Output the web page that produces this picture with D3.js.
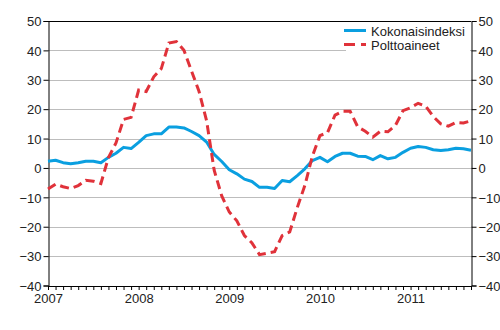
<!DOCTYPE html>
<html>
<head>
<meta charset="utf-8">
<script src="https://cdn.jsdelivr.net/npm/d3@7"></script>
<style>
  body { margin: 0; background: #fff; }
  svg { display: block; }
  text { font-family: Arial, "Liberation Sans", sans-serif; }
</style>
</head>
<body>
<svg id="chart" width="500" height="330"></svg>
<script>
// ---- data ----
const months = [];
for (let yr = 2007; yr <= 2011; yr++) {
  for (let m = 1; m <= 12; m++) {
    if (yr === 2011 && m > 9) break;
    months.push(yr + "-" + String(m).padStart(2, "0"));
  }
}
const yearLabels = ["2007", "2008", "2009", "2010", "2011"];
const yTicks = [-40, -30, -20, -10, 0, 10, 20, 30, 40, 50];
const seriesNames = ["Kokonaisindeksi", "Polttoaineet"];
const kokonaisindeksi = [2.3, 2.6, 1.8, 1.4, 1.8, 2.3, 2.3, 1.8, 3.6, 5.0,
  7.0, 6.6, 8.7, 11.0, 11.6, 11.6, 13.9, 13.9, 13.6, 12.4,
  11.0, 8.8, 4.6, 2.2, -0.6, -2.0, -3.8, -4.6, -6.6, -6.6,
  -7.0, -4.3, -4.7, -2.6, -0.3, 2.5, 3.6, 2.1, 3.9, 5.0,
  5.0, 4.0, 3.9, 2.8, 4.2, 3.1, 3.6, 5.3, 6.7, 7.3,
  7.0, 6.2, 5.9, 6.2, 6.7, 6.5, 6.0];
const polttoaineet = [-7.2, -5.5, -6.4, -7.0, -6.0, -4.2, -4.5, -5.3, 3.5, 8.5,
  16.5, 17.2, 26.5, 26.0, 31.0, 33.8, 42.5, 43.0, 40.0, 33.0,
  26.0, 16.0, -0.8, -9.5, -15.0, -18.0, -23.0, -25.5, -29.5, -29.0,
  -28.5, -23.0, -21.8, -13.5, -6.0, 4.0, 11.0, 12.0, 18.0, 19.3,
  19.3, 14.0, 12.5, 10.5, 12.5, 12.3, 14.5, 19.5, 20.5, 22.0,
  21.0, 17.5, 15.0, 14.2, 15.5, 15.3, 16.0];
const colors = ["#0a9fe0", "#e0323a"];

// ---- layout ----
const svg = d3.select("#chart");
const pL = 48, pR = 471, pT = 21, pB = 285.5;

const x = d3.scalePoint().domain(months).range([pL, pR]);
const y = d3.scaleLinear().domain([-40, 50]).range([pB, pT]);

// gridlines
svg.append("g").selectAll("line")
  .data(yTicks.filter(v => v > -40 && v < 50))
  .join("line")
  .attr("x1", pL).attr("x2", pR)
  .attr("y1", d => Math.round(y(d)) + 0.5).attr("y2", d => Math.round(y(d)) + 0.5)
  .attr("stroke", "#bdbdbd").attr("stroke-width", 1);

// plot frame (top)
svg.append("line").attr("x1", pL).attr("x2", pR)
  .attr("y1", pT + 0.5).attr("y2", pT + 0.5).attr("stroke", "#000");

// axes
const textColor = "#222";
const yAxisL = svg.append("g").attr("transform", `translate(${pL + 0.5},0)`)
  .call(d3.axisLeft(y).tickValues(yTicks).tickSize(5).tickPadding(2).tickFormat(d3.format("d")));
const yAxisR = svg.append("g").attr("transform", `translate(${pR + 0.5},0)`)
  .call(d3.axisRight(y).tickValues(yTicks).tickSize(5).tickPadding(2).tickFormat(d3.format("d")));
const xAxis = svg.append("g").attr("transform", `translate(0,${pB + 0.5})`)
  .call(d3.axisBottom(x).tickSize(4).tickPadding(4)
    .tickFormat(d => d.endsWith("-01") ? d.slice(0, 4) : ""));

[yAxisL, yAxisR, xAxis].forEach(g => {
  g.select(".domain").attr("stroke", "#000").attr("stroke-width", 1);
  g.selectAll(".tick line").attr("stroke", "#000");
  g.selectAll(".tick text").attr("fill", textColor)
    .style("font-size", "13px").style("font-family", "Arial, 'Liberation Sans', sans-serif");
});
yAxisL.selectAll(".tick text").attr("dy", "0.36em");
yAxisR.selectAll(".tick text").attr("dy", "0.36em");
xAxis.selectAll(".tick text").attr("dy", "0.71em");

// lines
const line = d3.line().x((d, i) => x(months[i])).y(d => y(d));
svg.append("path").datum(kokonaisindeksi)
  .attr("d", line).attr("fill", "none")
  .attr("stroke", colors[0]).attr("stroke-width", 3).attr("stroke-linejoin", "round");
svg.append("path").datum(polttoaineet)
  .attr("d", line).attr("fill", "none")
  .attr("stroke", colors[1]).attr("stroke-width", 3)
  .attr("stroke-dasharray", "9,5");

// legend
const lg = svg.append("g");
lg.append("rect").attr("x", 346).attr("y", 22).attr("width", 124).attr("height", 32).attr("fill", "#fff");
const legendY = [30.5, 44.5];
seriesNames.forEach((name, i) => {
  const l = lg.append("line").attr("x1", 344).attr("x2", 366)
    .attr("y1", legendY[i]).attr("y2", legendY[i])
    .attr("stroke", colors[i]).attr("stroke-width", 3);
  if (i === 1) l.attr("stroke-dasharray", "11,6");
  lg.append("text").attr("x", 371).attr("y", legendY[i] + 5.5)
    .attr("fill", textColor).style("font-size", "13px").text(name);
});
</script>
</body>
</html>
